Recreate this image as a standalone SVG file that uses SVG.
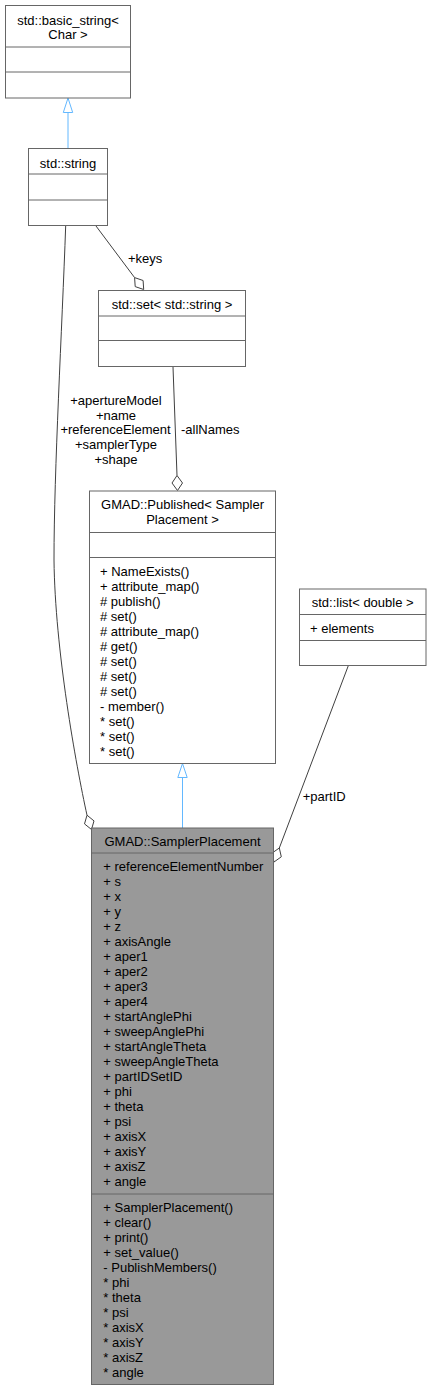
<svg xmlns="http://www.w3.org/2000/svg" width="431" height="1391" viewBox="0 0 431 1391">
<style>
text{font-family:"Liberation Sans",Arial,sans-serif;font-size:13px;fill:#000}
.box{fill:#fff;stroke:#666;stroke-width:1}
.sel{fill:#999;stroke:#666;stroke-width:1}
.div{stroke:#666;stroke-width:1;fill:none}
.mid{text-anchor:middle}
.agg{stroke:#404040;stroke-width:1;fill:none}
.dia{fill:#fff;stroke:#404040;stroke-width:1}
.inh{stroke:#63B8FF;stroke-width:1;fill:none}
.tri{fill:#fff;stroke:#63B8FF;stroke-width:1}
</style>
<rect width="431" height="1391" fill="#fff"/>
<g id="connectors">
  <path class="inh" d="M68,112.5 L68,148.5"/>
  <polygon class="tri" points="68,98 63.3,112.5 72.7,112.5"/>
  <path class="inh" d="M182.5,777.5 L182.5,828"/>
  <polygon class="tri" points="182.5,763.5 177.8,777.5 187.2,777.5"/>
  <path class="agg" d="M96,226 L134.6,277.6"/>
  <polygon class="dia" points="143.7,289.5 143.1,280.5 134.6,277.6 135.2,286.6"/>
  <text x="128" y="262.5">+keys</text>
  <path class="agg" d="M173,367 L177,475.5"/>
  <polygon class="dia" points="177.5,490.5 182.5,483 177,475.5 172,483"/>
  <text x="181" y="434">-allNames</text>
  <path class="agg" d="M65.7,225.5 C62,330 54,470 54,560 C55,650 76,765 87,815.2"/>
  <polygon class="dia" points="91.5,829.5 94,820.9 87,815.2 84.5,823.9"/>
  <text class="mid" x="116" y="404.5">+apertureModel</text>
  <text class="mid" x="116" y="419.5">+name</text>
  <text class="mid" x="115.5" y="434">+referenceElement</text>
  <text class="mid" x="116" y="449">+samplerType</text>
  <text class="mid" x="116" y="464">+shape</text>
  <path class="agg" d="M348.3,665.7 L279.3,848"/>
  <polygon class="dia" points="274,862 281.3,856.8 279.3,848 271.9,853.2"/>
  <text x="302.7" y="801">+partID</text>
</g>
<g id="node_basic_string">
  <rect class="box" x="5.5" y="5.5" width="125" height="92.5"/>
  <path class="div" d="M5.5,47 H130.5 M5.5,72 H130.5"/>
  <text class="mid" x="68" y="24.5">std::basic_string&lt;</text>
  <text class="mid" x="68" y="39">Char &gt;</text>
</g>
<g id="node_string">
  <rect class="box" x="28.5" y="148.5" width="79" height="77"/>
  <path class="div" d="M28.5,174 H107.5 M28.5,200 H107.5"/>
  <text class="mid" x="68" y="168">std::string</text>
</g>
<g id="node_set">
  <rect class="box" x="98.5" y="290.5" width="147" height="76"/>
  <path class="div" d="M98.5,316 H245.5 M98.5,340.5 H245.5"/>
  <text class="mid" x="172" y="308.5">std::set&lt; std::string &gt;</text>
</g>
<g id="node_published">
  <rect class="box" x="89.5" y="491" width="186" height="272.5"/>
  <path class="div" d="M89.5,532.5 H275.5 M89.5,557.5 H275.5"/>
  <text class="mid" x="182.5" y="509">GMAD::Published&lt; Sampler</text>
  <text class="mid" x="182.5" y="524">Placement &gt;</text>
  <text x="100" y="576.2">+ NameExists()</text>
  <text x="100" y="591.2">+ attribute_map()</text>
  <text x="100" y="606.2"># publish()</text>
  <text x="100" y="621.2"># set()</text>
  <text x="100" y="636.2"># attribute_map()</text>
  <text x="100" y="651.2"># get()</text>
  <text x="100" y="666.2"># set()</text>
  <text x="100" y="681.2"># set()</text>
  <text x="100" y="696.2"># set()</text>
  <text x="100" y="711.2">- member()</text>
  <text x="100" y="726.2">* set()</text>
  <text x="100" y="741.2">* set()</text>
  <text x="100" y="756.2">* set()</text>
</g>
<g id="node_list">
  <rect class="box" x="299.5" y="589" width="126.5" height="76.5"/>
  <path class="div" d="M299.5,614.5 H426 M299.5,640.5 H426"/>
  <text class="mid" x="362.7" y="607">std::list&lt; double &gt;</text>
  <text x="310" y="633">+ elements</text>
</g>
<g id="node_sampler_placement">
  <rect class="sel" x="91.5" y="828" width="182" height="556.5"/>
  <path class="div" d="M91.5,853 H273.5 M91.5,1194 H273.5"/>
  <text class="mid" x="182.5" y="845.5">GMAD::SamplerPlacement</text>
  <text x="103.3" y="871.2">+ referenceElementNumber</text>
  <text x="103.3" y="886.2">+ s</text>
  <text x="103.3" y="901.2">+ x</text>
  <text x="103.3" y="916.2">+ y</text>
  <text x="103.3" y="931.2">+ z</text>
  <text x="103.3" y="946.2">+ axisAngle</text>
  <text x="103.3" y="961.2">+ aper1</text>
  <text x="103.3" y="976.2">+ aper2</text>
  <text x="103.3" y="991.2">+ aper3</text>
  <text x="103.3" y="1006.2">+ aper4</text>
  <text x="103.3" y="1021.2">+ startAnglePhi</text>
  <text x="103.3" y="1036.2">+ sweepAnglePhi</text>
  <text x="103.3" y="1051.2">+ startAngleTheta</text>
  <text x="103.3" y="1066.2">+ sweepAngleTheta</text>
  <text x="103.3" y="1081.2">+ partIDSetID</text>
  <text x="103.3" y="1096.2">+ phi</text>
  <text x="103.3" y="1111.2">+ theta</text>
  <text x="103.3" y="1126.2">+ psi</text>
  <text x="103.3" y="1141.2">+ axisX</text>
  <text x="103.3" y="1156.2">+ axisY</text>
  <text x="103.3" y="1171.2">+ axisZ</text>
  <text x="103.3" y="1186.2">+ angle</text>
  <text x="103.3" y="1212.2">+ SamplerPlacement()</text>
  <text x="103.3" y="1227.2">+ clear()</text>
  <text x="103.3" y="1242.2">+ print()</text>
  <text x="103.3" y="1257.2">+ set_value()</text>
  <text x="103.3" y="1272.2">- PublishMembers()</text>
  <text x="103.3" y="1287.2">* phi</text>
  <text x="103.3" y="1302.2">* theta</text>
  <text x="103.3" y="1317.2">* psi</text>
  <text x="103.3" y="1332.2">* axisX</text>
  <text x="103.3" y="1347.2">* axisY</text>
  <text x="103.3" y="1362.2">* axisZ</text>
  <text x="103.3" y="1377.2">* angle</text>
</g>
</svg>
